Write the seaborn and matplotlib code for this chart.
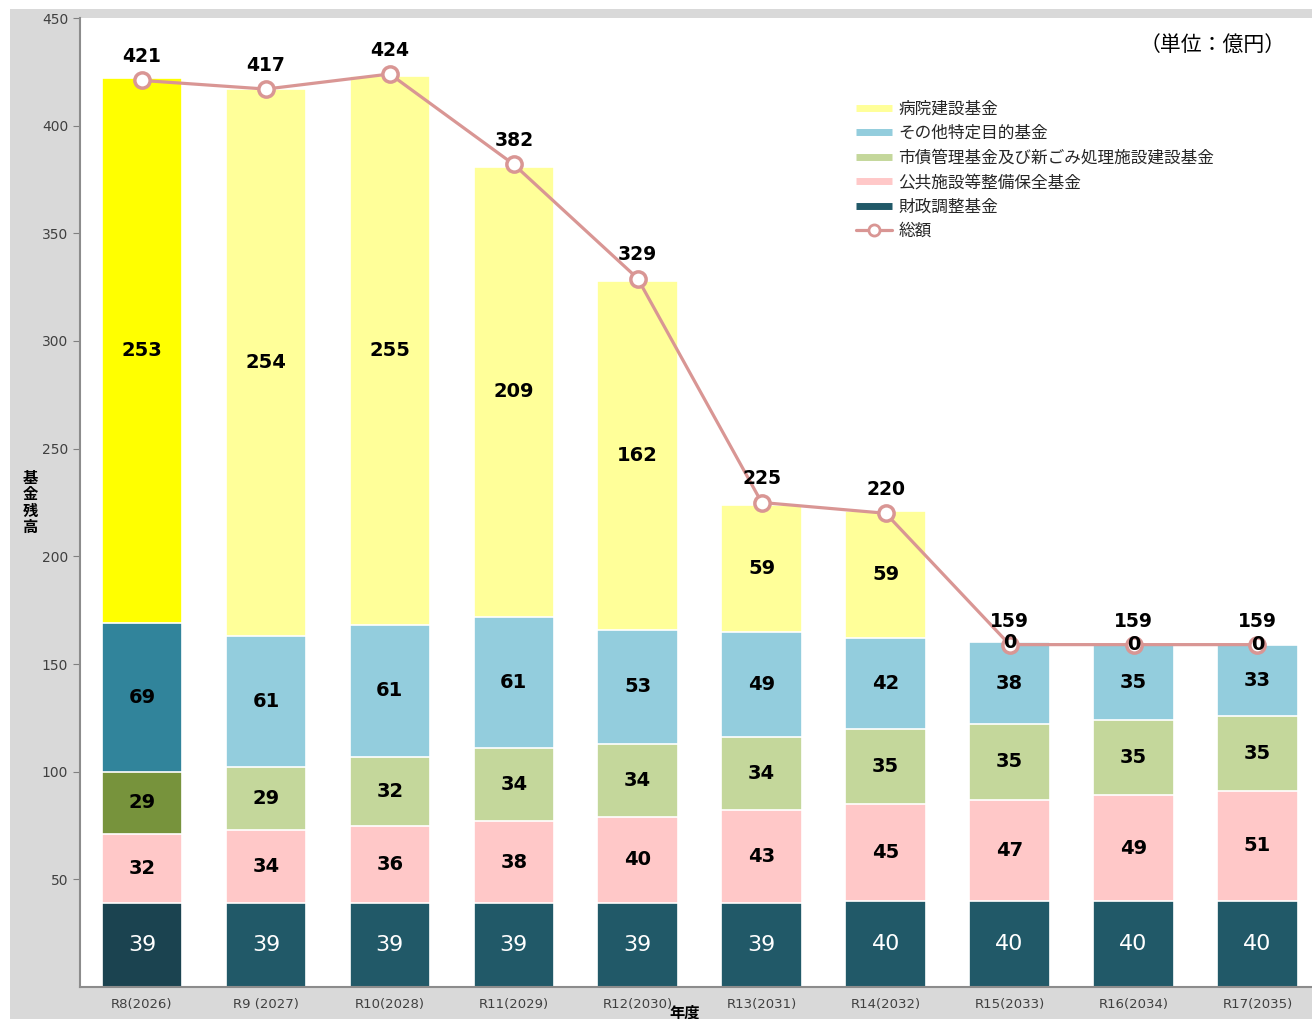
import numpy as np
import pandas as pd
import seaborn as sns
import matplotlib.pyplot as plt
from matplotlib.lines import Line2D
from matplotlib.patches import Rectangle

years = ["R8(2026)", "R9 (2027)", "R10(2028)", "R11(2029)", "R12(2030)",
         "R13(2031)", "R14(2032)", "R15(2033)", "R16(2034)", "R17(2035)"]

# stacked from bottom to top
zaisei = [39, 39, 39, 39, 39, 39, 40, 40, 40, 40]
kokyo = [32, 34, 36, 38, 40, 43, 45, 47, 49, 51]
saisai = [29, 29, 32, 34, 34, 34, 35, 35, 35, 35]
sonota = [69, 61, 61, 61, 53, 49, 42, 38, 35, 33]
byoin = [253, 254, 255, 209, 162, 59, 59, 0, 0, 0]
total = [421, 417, 424, 382, 329, 225, 220, 159, 159, 159]

names = ["財政調整基金", "公共施設等整備保全基金", "市債管理基金及び新ごみ処理施設建設基金",
         "その他特定目的基金", "病院建設基金"]
layers = [zaisei, kokyo, saisai, sonota, byoin]
# (first bar colour, other bars colour)
colors = [("#1b4350", "#215968"), ("#ffc8c8", "#ffc8c8"), ("#77933c", "#c4d79b"),
          ("#31849b", "#93cddd"), ("#ffff00", "#ffff99")]
line_color = "#d99694"

sns.set_style("white")
plt.rcParams['font.family'] = ['DejaVu Sans', 'Noto Sans CJK JP']

W, H = 1312, 1019
fig = plt.figure(figsize=(W / 100, H / 100), dpi=100, facecolor="white")
fig.patches.append(Rectangle((10 / W, 0), 1, 1 - 9 / H, transform=fig.transFigure,
                             facecolor="#d9d9d9", edgecolor="none", zorder=-10))
ax = fig.add_axes([80 / W, 1 - 987 / H, 1 - 80 / W, (987 - 18) / H])
ax.set_facecolor("white")

cum = np.cumsum(np.array(layers), axis=0)
n = len(years)
for i in range(len(layers) - 1, -1, -1):
    pal = [colors[i][0]] + [colors[i][1]] * (n - 1)
    df = pd.DataFrame({"year": years, "v": cum[i]})
    sns.barplot(data=df, x="year", y="v", hue="year", palette=pal, legend=False,
                saturation=1, width=0.65, edgecolor="white", linewidth=1.2,
                ax=ax, zorder=2)

# segment labels
for i, vals in enumerate(layers):
    bottom = cum[i] - np.array(vals)
    for j, v in enumerate(vals):
        y = bottom[j] + v / 2
        if i == 0:
            ax.text(j, y, str(v), ha="center", va="center", color="white",
                    fontsize=16, zorder=5)
        else:
            ax.text(j, y, str(v), ha="center", va="center", color="black",
                    fontsize=14, fontweight="bold", zorder=5)

xs = np.arange(n)
sns.lineplot(x=xs, y=total, ax=ax, color=line_color, linewidth=2.3, marker="o",
             markersize=11, markerfacecolor="white", markeredgecolor=line_color,
             markeredgewidth=2.5, zorder=4)
for j, t in enumerate(total):
    ax.annotate(str(t), (j, t), xytext=(0, 17), textcoords="offset points",
                ha="center", va="center", fontsize=13.5, fontweight="bold",
                color="black", zorder=6)

ax.set_xlim(-0.5, 9.44)
ax.set_ylim(0, 450)
ax.set_yticks(range(50, 451, 50))
ax.set_xlabel("")
ax.set_ylabel("")
ax.tick_params(axis="y", length=5, color="#808080", labelsize=10, labelcolor="#404040",
               direction="out", left=True)
ax.tick_params(axis="x", length=0, labelsize=9.5, labelcolor="#404040", pad=8)
for s in ["top", "right"]:
    ax.spines[s].set_visible(False)
for s in ["left", "bottom"]:
    ax.spines[s].set_color("#8c8c8c")
    ax.spines[s].set_linewidth(1.5)

fig.text(30 / W, 1 - 503 / H, "基\n金\n残\n高", ha="center", va="center",
         fontsize=11, fontweight="bold", linespacing=1.1, color="black")
fig.text(685 / W, 1 - 1013 / H, "年度", ha="center", va="center",
         fontsize=11, fontweight="bold", color="black")
fig.text(1286 / W, 1 - 45 / H, "（単位：億円）", ha="right", va="center", fontsize=15,
         color="black")

handles = [Line2D([], [], color=colors[i][1], lw=5, solid_capstyle="butt")
           for i in [4, 3, 2, 1, 0]]
handles.append(Line2D([], [], color=line_color, lw=2.3, marker="o", markersize=8,
                      markerfacecolor="white", markeredgecolor=line_color,
                      markeredgewidth=2))
labels = [names[i] for i in [4, 3, 2, 1, 0]] + ["総額"]
fig.legend(handles, labels, loc="upper left", bbox_to_anchor=(849 / W, 1 - 93 / H),
           frameon=False, fontsize=12, handlelength=2.2, labelspacing=0.39,
           handletextpad=0.35, borderaxespad=0, labelcolor="#262626")

fig.savefig("out.png", dpi=100, facecolor=fig.get_facecolor())
